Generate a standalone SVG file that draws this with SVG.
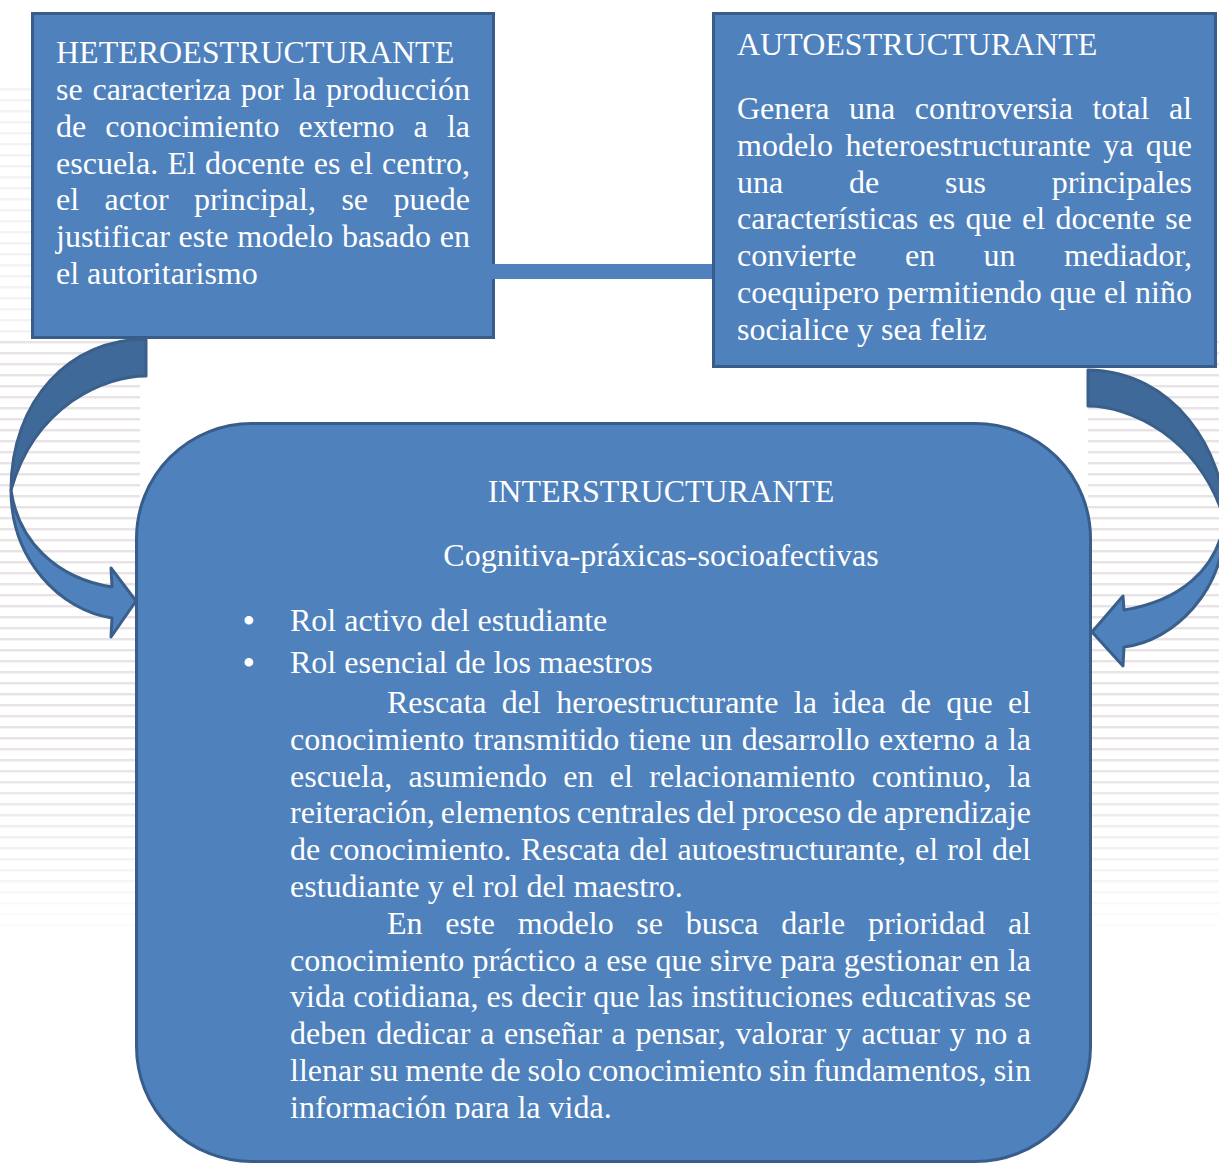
<svg xmlns="http://www.w3.org/2000/svg" width="1219" height="1164" viewBox="0 0 1219 1164">
<style>
.box{fill:#4f81bd;stroke:#385d8a;stroke-width:3}
.t{font-family:"Liberation Serif","Times New Roman",serif;font-size:32px;fill:#ffffff}
.b{font-family:"Liberation Serif","Times New Roman",serif;font-size:36px;fill:#ffffff}
.dark{fill:#3f6998;stroke:#3a5f8b;stroke-width:3;stroke-linejoin:round}
.light{fill:#4f81bd;stroke:#3a5f8b;stroke-width:3;stroke-linejoin:round}
</style>
<defs>
<pattern id="stripes" x="0" y="0" width="20" height="11" patternUnits="userSpaceOnUse">
<rect x="0" y="0" width="20" height="2" fill="#e8e4e6"/>
<rect x="0" y="2" width="20" height="1" fill="#f4f2f3"/>
</pattern>
<linearGradient id="fade" x1="0" y1="0" x2="0" y2="1">
<stop offset="0" stop-color="#ffffff" stop-opacity="0"/>
<stop offset="1" stop-color="#ffffff" stop-opacity="1"/>
</linearGradient>
<clipPath id="clipMain"><rect x="130" y="420" width="970" height="699"/></clipPath>
</defs>
<rect width="1219" height="1164" fill="#ffffff"/>
<g id="background">
<rect x="0" y="335" width="140" height="605" fill="url(#stripes)"/>
<rect x="1088" y="335" width="131" height="605" fill="url(#stripes)"/>
<rect x="0" y="85" width="32" height="250" fill="url(#stripes)" opacity="0.5"/>
<rect x="0" y="760" width="1219" height="182" fill="url(#fade)"/>
</g>
<g id="node-hetero">
<rect class="box" x="32.5" y="13.5" width="461" height="324"/>
<text class="t" x="56" y="63">HETEROESTRUCTURANTE</text>
<text class="t" x="56" y="100" word-spacing="1.8" textLength="414" lengthAdjust="spacing">se caracteriza por la producción</text>
<text class="t" x="56" y="137" word-spacing="11.1" textLength="414" lengthAdjust="spacing">de conocimiento externo a la</text>
<text class="t" x="56" y="173.5" word-spacing="1.2" textLength="414" lengthAdjust="spacing">escuela. El docente es el centro,</text>
<text class="t" x="56" y="210" word-spacing="17.5" textLength="414" lengthAdjust="spacing">el actor principal, se puede</text>
<text class="t" x="56" y="247" word-spacing="0.8" textLength="414" lengthAdjust="spacing">justificar este modelo basado en</text>
<text class="t" x="56" y="284">el autoritarismo</text>
</g>
<g id="connectors">
<rect x="487" y="264" width="226" height="15" fill="#4f81bd"/>
</g>
<g id="node-auto">
<rect class="box" x="713.5" y="13.5" width="502" height="353"/>
<text class="t" x="737" y="55">AUTOESTRUCTURANTE</text>
<text class="t" x="737" y="119" word-spacing="11.5" textLength="455" lengthAdjust="spacing">Genera una controversia total al</text>
<text class="t" x="737" y="155.8" word-spacing="4.4" textLength="455" lengthAdjust="spacing">modelo heteroestructurante ya que</text>
<text class="t" x="737" y="192.6" word-spacing="57.8" textLength="455" lengthAdjust="spacing">una de sus principales</text>
<text class="t" x="737" y="229.4" word-spacing="2.3" textLength="455" lengthAdjust="spacing">características es que el docente se</text>
<text class="t" x="737" y="266.2" word-spacing="40.3" textLength="455" lengthAdjust="spacing">convierte en un mediador,</text>
<text class="t" x="737" y="303" textLength="455" lengthAdjust="spacing">coequipero permitiendo que el niño</text>
<text class="t" x="737" y="339.8">socialice y sea feliz</text>
</g>
<g id="node-inter">
<rect class="box" x="136.5" y="423.5" width="954" height="738" rx="115" ry="115"/>
<g clip-path="url(#clipMain)">
<text class="t" x="661" y="502" text-anchor="middle">INTERSTRUCTURANTE</text>
<text class="t" x="661" y="566" text-anchor="middle">Cognitiva-práxicas-socioafectivas</text>
<text class="b" x="242.5" y="633">•</text>
<text class="t" x="290" y="631">Rol activo del estudiante</text>
<text class="b" x="242.5" y="675">•</text>
<text class="t" x="290" y="673">Rol esencial de los maestros</text>
<text class="t" x="387" y="713" word-spacing="7.3" textLength="644" lengthAdjust="spacing">Rescata del heroestructurante la idea de que el</text>
<text class="t" x="290" y="749.8" word-spacing="1.4" textLength="741" lengthAdjust="spacing">conocimiento transmitido tiene un desarrollo externo a la</text>
<text class="t" x="290" y="786.6" word-spacing="8.3" textLength="741" lengthAdjust="spacing">escuela, asumiendo en el relacionamiento continuo, la</text>
<text class="t" x="290" y="823.4" word-spacing="-1.9" textLength="741" lengthAdjust="spacing">reiteración, elementos centrales del proceso de aprendizaje</text>
<text class="t" x="290" y="860.2" word-spacing="1.1" textLength="741" lengthAdjust="spacing">de conocimiento. Rescata del autoestructurante, el rol del</text>
<text class="t" x="290" y="897">estudiante y el rol del maestro.</text>
<text class="t" x="387" y="933.8" word-spacing="14.7" textLength="644" lengthAdjust="spacing">En este modelo se busca darle prioridad al</text>
<text class="t" x="290" y="970.6" word-spacing="0.3" textLength="741" lengthAdjust="spacing">conocimiento práctico a ese que sirve para gestionar en la</text>
<text class="t" x="290" y="1007.4" textLength="741" lengthAdjust="spacing">vida cotidiana, es decir que las instituciones educativas se</text>
<text class="t" x="290" y="1044.2" word-spacing="1.6" textLength="741" lengthAdjust="spacing">deben dedicar a enseñar a pensar, valorar y actuar y no a</text>
<text class="t" x="290" y="1081" word-spacing="-1" textLength="741" lengthAdjust="spacing">llenar su mente de solo conocimiento sin fundamentos, sin</text>
<text class="t" x="290" y="1117.8">información para la vida.</text>
</g>
</g>
<g id="arrows">
<g id="arrow-left">
<path class="dark" d="M146,339 L146,376 C105,376 35,405 11,490 C11,400 70,339 146,339 Z"/>
<path class="light" d="M11,490 C11,560 60,610 112,618 L111,637 L136,601 L111,568 L112,587 C55,578 18,540 11,490 Z"/>
</g>
<g id="arrow-right">
<path class="dark" d="M1088,370 L1088,406 C1129,406 1199,436 1225,521 C1225,451 1174,371 1088,370 Z"/>
<path class="light" d="M1225,521 C1225,591 1174,641 1124,647 L1123,666 L1092,632 L1123,596 L1124,610 C1179,601 1216,571 1225,521 Z"/>
</g>
</g>
</svg>
